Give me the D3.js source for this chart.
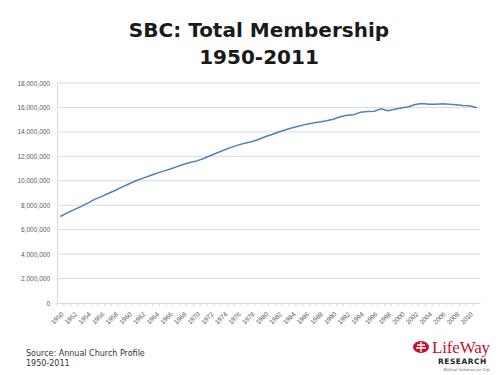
<!DOCTYPE html>
<html>
<head>
<meta charset="utf-8">
<script src="https://cdn.jsdelivr.net/npm/d3@7"></script>
<style>
  body { margin: 0; background: #fff; }
  svg { display: block; }
</style>
</head>
<body>
<svg id="chart" width="500" height="375"></svg>
<script>
// DATA - SBC total membership, Annual Church Profile
var years = d3.range(1950, 2012);
var members = [
  7079889, 7373498, 7634493, 7883708, 8169491, 8474741, 8700480, 8956756, 9206758, 9485276,
  9731591, 9978139, 10193052, 10395639, 10601515, 10770573, 10947389, 11140308, 11332229, 11489613,
  11628032, 11826463, 12067284, 12295400, 12513378, 12733124, 12917992, 13078239, 13191394, 13372757,
  13600126, 13782644, 13991709, 14178051, 14341822, 14477364, 14613638, 14722617, 14812844, 14907826,
  15038409, 15232347, 15358866, 15398642, 15614060, 15663296, 15691964, 15891514, 15729356, 15851756,
  15960308, 16052920, 16247736, 16315050, 16267494, 16270315, 16306246, 16266920, 16228438, 16160088,
  16136044, 15978112
];
var yTicks = [0, 2000000, 4000000, 6000000, 8000000, 10000000, 12000000, 14000000, 16000000, 18000000];
var titleLines = ["SBC: Total Membership", "1950-2011"];
var sourceLines = ["Source: Annual Church Profile", "1950-2011"];

// SIZES (no "top" here, it is taken by window.top)
var plotLeft = 57, plotRight = 480, plotTop = 83, plotBottom = 303;
var lineColor = "#4f81bd";
var gridColor = "#d9d9d9";
var labelColor = "#595959";

var svg = d3.select("#chart");

// TITLE
svg.selectAll("text.title")
  .data(titleLines)
  .enter()
  .append("text")
  .attr("class", "title")
  .attr("x", 259)
  .attr("y", function(d, i) { return 37 + i * 27; })
  .attr("text-anchor", "middle")
  .attr("font-family", "DejaVu Sans")
  .attr("font-size", "20")
  .attr("font-weight", "bold")
  .attr("fill", "#1a1a1a")
  .text(function(d) { return d; });

// SCALES
var x = d3.scaleBand().domain(years).range([plotLeft, plotRight]);
var y = d3.scaleLinear().domain([0, 18000000]).range([plotBottom, plotTop]);

// gridlines
svg.append("g")
  .selectAll("line")
  .data(yTicks.slice(1))
  .enter()
  .append("line")
  .attr("x1", plotLeft)
  .attr("x2", plotRight)
  .attr("y1", function(d) { return y(d); })
  .attr("y2", function(d) { return y(d); })
  .attr("stroke", gridColor)
  .attr("stroke-width", 1);

// y axis
var yAxis = svg.append("g")
  .attr("transform", "translate(" + plotLeft + ",0)")
  .call(d3.axisLeft(y).tickValues(yTicks).tickSize(0).tickPadding(7)
    .tickFormat(d3.format(",")));
yAxis.select(".domain").attr("stroke", gridColor);
yAxis.selectAll("text")
  .attr("font-family", "Liberation Sans")
  .attr("font-size", "6.5")
  .attr("fill", labelColor);

// x axis
var xAxis = svg.append("g")
  .attr("transform", "translate(0," + plotBottom + ")")
  .call(d3.axisBottom(x).tickSize(3).tickSizeOuter(0)
    .tickFormat(function(d) { return d % 2 == 0 ? d : ""; }));
xAxis.select(".domain").attr("stroke", gridColor);
xAxis.selectAll(".tick line").attr("stroke", gridColor)
  .attr("transform", "translate(" + (-x.bandwidth() / 2) + ",0)");
xAxis.selectAll("text")
  .attr("font-family", "Liberation Sans")
  .attr("font-size", "6.5")
  .attr("fill", labelColor)
  .attr("text-anchor", "end")
  .attr("dy", "0.35em")
  .attr("y", 0)
  .attr("transform", "translate(2,10) rotate(-45)");

// LINE
var line = d3.line()
  .x(function(d, i) { return x(years[i]) + x.bandwidth() / 2; })
  .y(function(d) { return y(d); });

svg.append("path")
  .datum(members)
  .attr("d", line)
  .attr("fill", "none")
  .attr("stroke", lineColor)
  .attr("stroke-width", 1.5);

// SOURCE
svg.selectAll("text.source")
  .data(sourceLines)
  .enter()
  .append("text")
  .attr("class", "source")
  .attr("x", 26)
  .attr("y", function(d, i) { return 356 + i * 10; })
  .attr("font-family", "DejaVu Sans")
  .attr("font-size", "8")
  .attr("fill", "#333")
  .text(function(d) { return d; });

// LOGO
var logo = svg.append("g").attr("transform", "translate(413,339)");
logo.append("ellipse")
  .attr("cx", 8).attr("cy", 8).attr("rx", 8).attr("ry", 6)
  .attr("fill", "#c8102e");
logo.append("path")
  .attr("d", "M4,6 L12,6 M8,3 L8,13 M3,9 L13,9")
  .attr("stroke", "#fff").attr("stroke-width", 1.3).attr("fill", "none");
logo.append("text")
  .attr("x", 19).attr("y", 14)
  .attr("font-family", "Liberation Serif")
  .attr("font-size", "17")
  .attr("textLength", "58")
  .attr("fill", "#c8102e")
  .text("LifeWay");
logo.append("text")
  .attr("x", 25).attr("y", 25)
  .attr("font-family", "DejaVu Sans")
  .attr("font-weight", "bold")
  .attr("font-size", "7.5")
  .attr("letter-spacing", "0.5")
  .attr("fill", "#222")
  .text("RESEARCH");
logo.append("text")
  .attr("x", 77).attr("y", 32)
  .attr("text-anchor", "end")
  .attr("font-family", "Liberation Serif")
  .attr("font-style", "italic")
  .attr("font-size", "4.5")
  .attr("fill", "#666")
  .text("Biblical Solutions for Life");
</script>
</body>
</html>
